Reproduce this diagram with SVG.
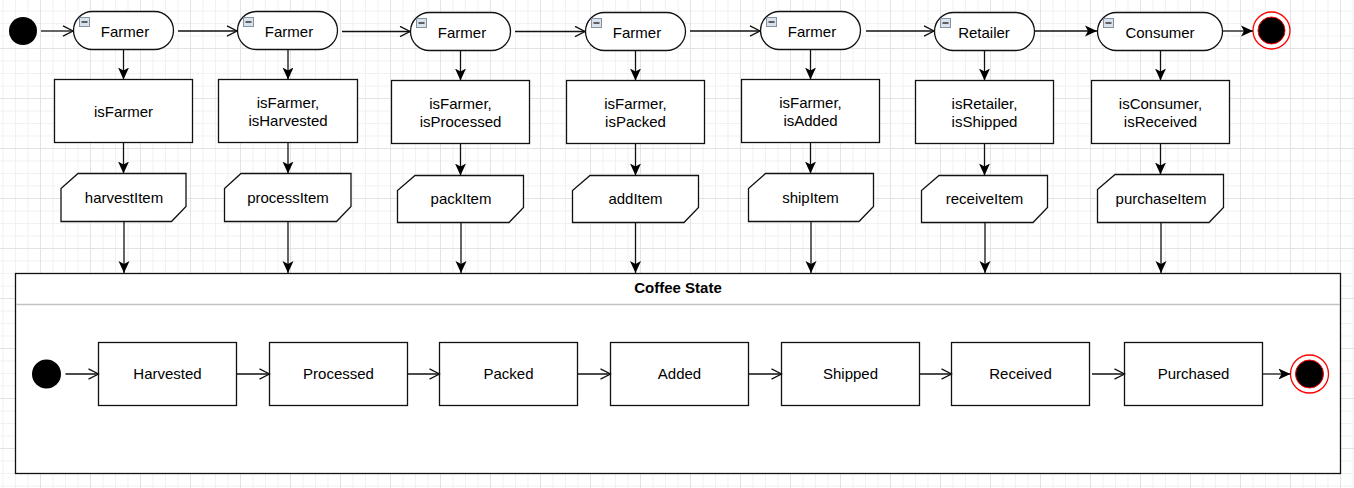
<svg xmlns="http://www.w3.org/2000/svg" width="1354" height="488" viewBox="0 0 1354 488">
<defs>
<pattern id="grid" x="40" y="48" width="50" height="50" patternUnits="userSpaceOnUse">
<path d="M13,0V50M25.5,0V50M38,0V50M0,13H50M0,25.5H50M0,38H50" stroke="#f1f1f1" stroke-width="1" fill="none"/>
<path d="M0.5,0V50M0,0.5H50" stroke="#e3e3e3" stroke-width="1" fill="none"/>
</pattern>
<marker id="open" viewBox="0 0 12 12" refX="11" refY="6" markerWidth="12" markerHeight="12" markerUnits="userSpaceOnUse" orient="auto">
<path d="M1,0.8 L11,6 L1,11.2" fill="none" stroke="#111" stroke-width="1.3"/>
</marker>
<marker id="fill" viewBox="0 0 12 12" refX="12" refY="6" markerWidth="12" markerHeight="12" markerUnits="userSpaceOnUse" orient="auto">
<path d="M0,0.5 L12,6 L0,11.5 L3,6 Z" fill="#000"/>
</marker>
<g id="mini">
<rect x="0.5" y="0.5" width="10" height="9" fill="#d9e1ea" stroke="#8393a3" stroke-width="1"/>
<path d="M2.5,5H8.5" stroke="#333" stroke-width="1.5"/>
</g>
</defs>
<style>
.t{font-family:"Liberation Sans",Arial,sans-serif;font-size:15px;fill:#000;text-anchor:middle}
.b{font-weight:bold}
.s{fill:#fff;stroke:#111;stroke-width:1.3}
.c{fill:none;stroke:#111;stroke-width:1.3}
.o{marker-end:url(#open)}
.f{marker-end:url(#fill)}
</style>
<rect width="1354" height="488" fill="#fff"/>
<rect width="1354" height="488" fill="url(#grid)"/>

<g id="coffee-state">
<rect class="s" x="15.5" y="273.5" width="1325" height="200"/>
<line x1="16" y1="304.5" x2="1340" y2="304.5" stroke="#c2c2c2" stroke-width="1.5"/>
<text class="t b" x="678" y="293">Coffee State</text>
</g>

<g id="start-top"><circle cx="23" cy="31" r="14" fill="#000"/></g>
<g id="end-top"><circle cx="1271.5" cy="30.5" r="18.5" fill="#fff" stroke="#f00" stroke-width="1.3"/><circle cx="1271.5" cy="30.5" r="13.5" fill="#000" stroke="#f00" stroke-width="1"/></g>

<g id="actor1"><rect class="s" x="73.5" y="11.5" width="100" height="38" rx="19"/><use href="#mini" x="79" y="17"/><text class="t" x="125" y="36.5">Farmer</text></g>
<g id="actor2"><rect class="s" x="237.5" y="11.5" width="100" height="38" rx="19"/><use href="#mini" x="243" y="17"/><text class="t" x="289" y="36.5">Farmer</text></g>
<g id="actor3"><rect class="s" x="410.5" y="12.5" width="100" height="38" rx="19"/><use href="#mini" x="416" y="18"/><text class="t" x="462" y="37.5">Farmer</text></g>
<g id="actor4"><rect class="s" x="585.5" y="12.5" width="100" height="38" rx="19"/><use href="#mini" x="591" y="18"/><text class="t" x="637" y="37.5">Farmer</text></g>
<g id="actor5"><rect class="s" x="760.5" y="11.5" width="100" height="38" rx="19"/><use href="#mini" x="766" y="17"/><text class="t" x="812" y="36.5">Farmer</text></g>
<g id="actor6"><rect class="s" x="934.5" y="12.5" width="100" height="38" rx="19"/><use href="#mini" x="940" y="18"/><text class="t" x="984" y="37.5">Retailer</text></g>
<g id="actor7"><rect class="s" x="1097.5" y="12.5" width="125" height="38" rx="19"/><use href="#mini" x="1103" y="18"/><text class="t" x="1160" y="37.5">Consumer</text></g>

<g id="guard1"><rect class="s" x="54.5" y="79.5" width="138" height="63"/><text class="t" x="123.5" y="116.5">isFarmer</text></g>
<g id="guard2"><rect class="s" x="218.5" y="79.5" width="139" height="63"/><text class="t" x="288" y="107.5">isFarmer,</text><text class="t" x="288" y="125.5">isHarvested</text></g>
<g id="guard3"><rect class="s" x="391.5" y="80.5" width="138" height="63"/><text class="t" x="460.5" y="108.5">isFarmer,</text><text class="t" x="460.5" y="126.5">isProcessed</text></g>
<g id="guard4"><rect class="s" x="566.5" y="80.5" width="138" height="63"/><text class="t" x="635.5" y="108.5">isFarmer,</text><text class="t" x="635.5" y="126.5">isPacked</text></g>
<g id="guard5"><rect class="s" x="741.5" y="79.5" width="138" height="63"/><text class="t" x="810.5" y="107.5">isFarmer,</text><text class="t" x="810.5" y="125.5">isAdded</text></g>
<g id="guard6"><rect class="s" x="915.5" y="80.5" width="138" height="63"/><text class="t" x="984.5" y="108.5">isRetailer,</text><text class="t" x="984.5" y="126.5">isShipped</text></g>
<g id="guard7"><rect class="s" x="1091.5" y="80.5" width="138" height="63"/><text class="t" x="1160.5" y="108.5">isConsumer,</text><text class="t" x="1160.5" y="126.5">isReceived</text></g>

<g id="call1"><polygon class="s" points="78,173.5 186,173.5 186,206.5 171.5,221.5 61,221.5 61,188.5"/><text class="t" x="124" y="203">harvestItem</text></g>
<g id="call2"><polygon class="s" points="241,173.5 351,173.5 351,206.5 336.5,221.5 224.5,221.5 224.5,188.5"/><text class="t" x="288" y="203">processItem</text></g>
<g id="call3"><polygon class="s" points="415,175.5 523.5,175.5 523.5,207.5 509,222.5 397.5,222.5 397.5,190.5"/><text class="t" x="461" y="204">packItem</text></g>
<g id="call4"><polygon class="s" points="590,175.5 698.5,175.5 698.5,207.5 684,222.5 572.5,222.5 572.5,190.5"/><text class="t" x="635.5" y="204">addItem</text></g>
<g id="call5"><polygon class="s" points="765.5,173.5 873.5,173.5 873.5,206.5 859,221.5 748.5,221.5 748.5,188.5"/><text class="t" x="810.5" y="203">shipItem</text></g>
<g id="call6"><polygon class="s" points="939,175.5 1047.5,175.5 1047.5,207.5 1033,222.5 921.5,222.5 921.5,190.5"/><text class="t" x="984.5" y="204">receiveItem</text></g>
<g id="call7"><polygon class="s" points="1115,174.5 1223.5,174.5 1223.5,207.5 1209,222.5 1097.5,222.5 1097.5,189.5"/><text class="t" x="1161" y="204">purchaseItem</text></g>

<g id="start-state"><circle cx="46.5" cy="374" r="14.5" fill="#000"/></g>
<g id="harvested"><rect class="s" x="98.5" y="342.5" width="138" height="63"/><text class="t" x="167.5" y="379">Harvested</text></g>
<g id="processed"><rect class="s" x="269.5" y="342.5" width="138" height="63"/><text class="t" x="338.5" y="379">Processed</text></g>
<g id="packed"><rect class="s" x="439.5" y="342.5" width="138" height="63"/><text class="t" x="508.5" y="379">Packed</text></g>
<g id="added"><rect class="s" x="610.5" y="342.5" width="138" height="63"/><text class="t" x="679.5" y="379">Added</text></g>
<g id="shipped"><rect class="s" x="781.5" y="342.5" width="138" height="63"/><text class="t" x="850.5" y="379">Shipped</text></g>
<g id="received"><rect class="s" x="951.5" y="342.5" width="138" height="63"/><text class="t" x="1020.5" y="379">Received</text></g>
<g id="purchased"><rect class="s" x="1124.5" y="342.5" width="138" height="63"/><text class="t" x="1193.5" y="379">Purchased</text></g>
<g id="end-state"><circle cx="1309.5" cy="374" r="19" fill="#fff" stroke="#f00" stroke-width="1.3"/><circle cx="1309.5" cy="374" r="14" fill="#000" stroke="#f00" stroke-width="1"/></g>

<g id="connectors">
<path class="c o" d="M41,31H73"/>
<path class="c o" d="M178,31H237"/>
<path class="c o" d="M342,31.5H410"/>
<path class="c o" d="M515,31.5H585"/>
<path class="c o" d="M690,31H760"/>
<path class="c o" d="M866,31H934"/>
<path class="c f" d="M1035,31H1097" stroke-width="1.6"/>
<path class="c f" d="M1222.5,31H1253" stroke-width="1.6"/>

<path class="c f" d="M123.5,49.5V79.5"/>
<path class="c f" d="M288,49.5V79.5"/>
<path class="c f" d="M460.5,50.5V80.5"/>
<path class="c f" d="M635.5,50.5V80.5"/>
<path class="c f" d="M810.5,49.5V79.5"/>
<path class="c f" d="M984.5,50.5V80.5"/>
<path class="c f" d="M1160.5,50.5V80.5"/>

<path class="c f" d="M123.5,142.5V173.5"/>
<path class="c f" d="M288,142.5V173.5"/>
<path class="c f" d="M460.5,143.5V175.5"/>
<path class="c f" d="M635.5,143.5V175.5"/>
<path class="c f" d="M810.5,142.5V173.5"/>
<path class="c f" d="M984.5,143.5V175.5"/>
<path class="c f" d="M1160.5,143.5V174.5"/>

<path class="c f" d="M124,221.5V273"/>
<path class="c f" d="M288,221.5V273"/>
<path class="c f" d="M461,222.5V273"/>
<path class="c f" d="M635.5,222.5V273"/>
<path class="c f" d="M811,221.5V273"/>
<path class="c f" d="M985,222.5V273"/>
<path class="c f" d="M1161,222.5V273"/>

<path class="c o" d="M65.5,374H98.5"/>
<path class="c o" d="M236.5,374H269.5"/>
<path class="c o" d="M407.5,374H439.5"/>
<path class="c o" d="M577.5,374H610.5"/>
<path class="c o" d="M748.5,374H781.5"/>
<path class="c o" d="M919.5,374H951.5"/>
<path class="c o" d="M1092,374H1124.5"/>
<path class="c f" d="M1262.5,374H1290.5"/>
</g>
</svg>
